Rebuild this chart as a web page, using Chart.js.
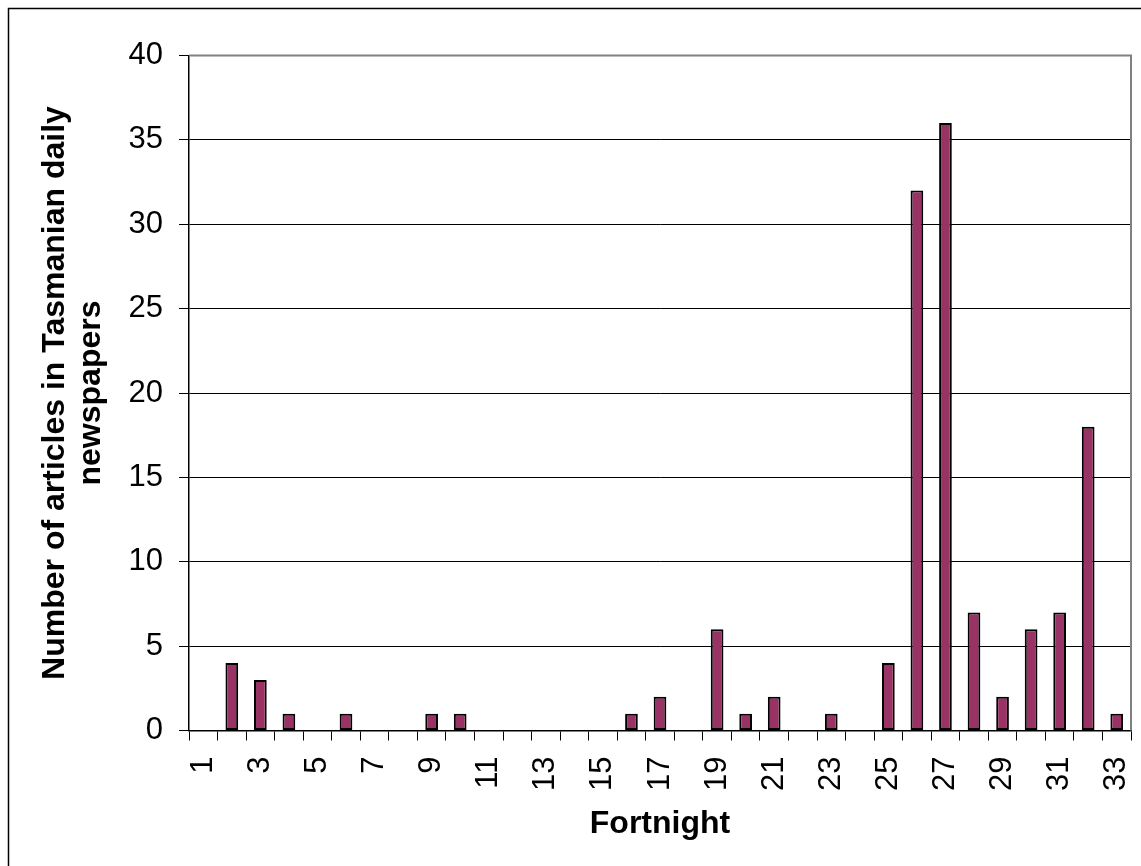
<!DOCTYPE html>
<html>
<head>
<meta charset="utf-8">
<style>
html,body{margin:0;padding:0;background:#fff;overflow:hidden;}
#wrap{position:relative;width:1141px;height:866px;}
</style>
<script src="https://cdn.jsdelivr.net/npm/chart.js@4/dist/chart.umd.min.js"></script>
</head>
<body>
<div id="wrap"><canvas id="c" width="1141" height="866"></canvas></div>
<script>
const categories = ['1','2','3','4','5','6','7','8','9','10','11','12','13','14','15','16','17','18','19','20','21','22','23','24','25','26','27','28','29','30','31','32','33'];
const articles = [0,4,3,1,0,1,0,0,1,1,0,0,0,0,0,1,2,0,6,1,2,0,1,0,4,32,36,7,2,6,7,18,1];
const yTitle = ['Number of articles in Tasmanian daily', 'newspapers'];
const xTitle = 'Fortnight';
const yMin = 0, yMax = 40, yStep = 5;

const FONT = "'Liberation Sans', Arial, sans-serif";

const framePlugin = {
  id: 'frame',
  beforeDraw(chart) {
    const ctx = chart.ctx;
    ctx.save();
    ctx.fillStyle = '#fff';
    ctx.fillRect(0, 0, chart.width, chart.height);
    ctx.strokeStyle = '#000';
    ctx.lineWidth = 1.5;
    ctx.strokeRect(8.5, 8.5, 1400, 1200);
    ctx.restore();
  },
  afterDatasetsDraw(chart) {
    const a = chart.chartArea;
    const ctx = chart.ctx;
    ctx.save();
    ctx.strokeStyle = '#808080';
    ctx.lineWidth = 2;
    ctx.beginPath();
    ctx.moveTo(a.left, a.top);
    ctx.lineTo(a.right, a.top);
    ctx.lineTo(a.right, a.bottom);
    ctx.stroke();
    ctx.restore();
  }
};

new Chart(document.getElementById('c'), {
  type: 'bar',
  data: {
    labels: categories,
    datasets: [{
      data: articles,
      backgroundColor: '#993366',
      borderColor: '#000',
      borderWidth: 2,
      borderSkipped: false,
      barPercentage: 0.445,
      categoryPercentage: 1
    }]
  },
  options: {
    responsive: false,
    animation: false,
    layout: { padding: { left: 0, right: 10, top: 55.5, bottom: 0 } },
    plugins: { legend: { display: false }, tooltip: { enabled: false } },
    scales: {
      x: {
        offset: true,
        grid: { display: true, drawOnChartArea: false, drawTicks: true, tickLength: 10, color: '#000', offset: true },
        border: { display: true, color: '#000', width: 1.5 },
        ticks: {
          autoSkip: false, minRotation: 90, maxRotation: 90, padding: 16,
          color: '#000', font: { family: FONT, size: 31 },
          callback: function(v, i) { return i % 2 === 0 ? categories[i] : ''; }
        },
        title: { display: true, text: xTitle, color: '#000', font: { family: FONT, size: 32, weight: 'bold', lineHeight: 1.1 }, padding: { top: 0, bottom: 24 } },
        afterFit(scale) { scale.height = 135.5; scale.paddingLeft = 0; scale.paddingRight = 0; }
      },
      y: {
        min: yMin, max: yMax,
        grid: {
          color: (c) => (c.tick && c.tick.value === yMax) ? 'rgba(0,0,0,0)' : '#000',
          lineWidth: 1, drawTicks: true, tickLength: 10, tickColor: '#000'
        },
        border: { display: true, color: '#000', width: 1.5 },
        ticks: { stepSize: yStep, padding: 16, color: '#000', font: { family: FONT, size: 31 } },
        title: { display: true, text: yTitle, color: '#000', font: { family: FONT, size: 32, weight: 'bold', lineHeight: 1.12 }, padding: { top: 37, bottom: 0 } },
        afterFit(scale) { scale.width = 189; scale.paddingTop = 0; scale.paddingBottom = 0; }
      }
    }
  },
  plugins: [framePlugin]
});
</script>
</body>
</html>
